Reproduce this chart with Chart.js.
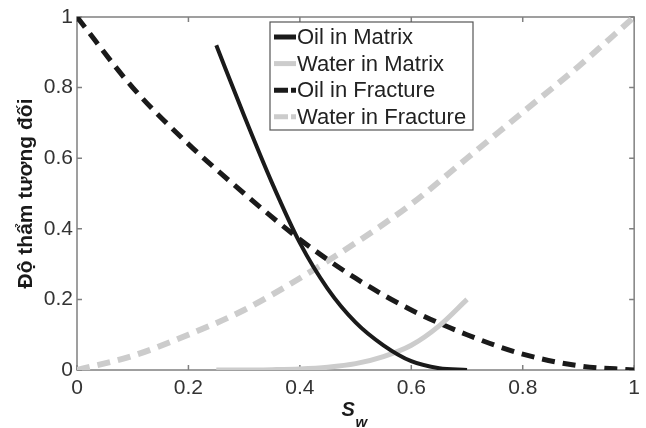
<!DOCTYPE html>
<html>
<head>
<meta charset="utf-8">
<script src="https://cdn.jsdelivr.net/npm/chart.js@4"></script>
<style>
  body { margin: 0; background: #fff; }
  canvas { display: block; }
</style>
</head>
<body>
<canvas id="kr-chart" width="646" height="428"></canvas>
<script>
// Du lieu doc tu hinh
const swMatrix = [0.25, 0.3, 0.35, 0.4, 0.45, 0.5, 0.55, 0.6, 0.65, 0.7];
const oilMatrix = [0.92, 0.72, 0.53, 0.36, 0.23, 0.135, 0.07, 0.025, 0.005, 0];
const waterMatrix = [0, 0, 0.001, 0.003, 0.008, 0.018, 0.038, 0.07, 0.125, 0.2];

const swFracture = [0, 0.1, 0.2, 0.3, 0.4, 0.5, 0.6, 0.7, 0.8, 0.9, 1];
const oilFracture = [1, 0.8, 0.64, 0.5, 0.37, 0.26, 0.17, 0.1, 0.045, 0.012, 0];
const waterFracture = [0, 0.04, 0.1, 0.17, 0.26, 0.36, 0.47, 0.6, 0.73, 0.86, 1];

const xTicks = [0, 0.2, 0.4, 0.6, 0.8, 1];
const yTicks = [0, 0.2, 0.4, 0.6, 0.8, 1];

const FONT = "'Liberation Sans', Arial, sans-serif";

function points(xs, ys) {
    return xs.map((x, i) => ({ x: x, y: ys[i] }));
}

// Khung truc kieu MATLAB, vach chia huong vao trong
const framePlugin = {
    id: 'frame',
    beforeDatasetsDraw(chart) {
        const { ctx, chartArea: a, scales } = chart;
        ctx.save();
        ctx.strokeStyle = '#808080';
        ctx.lineWidth = 1.5;
        ctx.strokeRect(a.left, a.top, a.right - a.left, a.bottom - a.top);
        ctx.beginPath();
        xTicks.forEach(v => {
            const px = scales.x.getPixelForValue(v);
            ctx.moveTo(px, a.bottom); ctx.lineTo(px, a.bottom - 5);
            ctx.moveTo(px, a.top); ctx.lineTo(px, a.top + 5);
        });
        yTicks.forEach(v => {
            const py = scales.y.getPixelForValue(v);
            ctx.moveTo(a.left, py); ctx.lineTo(a.left + 5, py);
            ctx.moveTo(a.right, py); ctx.lineTo(a.right - 5, py);
        });
        ctx.stroke();
        ctx.restore();
    },
    afterDraw(chart) {
        // Nhan truc x: S_w
        const { ctx, chartArea: a } = chart;
        const cx = (a.left + a.right) / 2;
        ctx.save();
        ctx.fillStyle = '#1a1a1a';
        ctx.textBaseline = 'alphabetic';
        ctx.font = 'italic bold 20px ' + FONT;
        ctx.fillText('S', cx - 14, 416);
        ctx.font = 'italic bold 15px ' + FONT;
        ctx.fillText('w', cx + 0, 427);
        ctx.restore();
    }
};

// Chu thich ben trong vung ve
const legendPlugin = {
    id: 'innerLegend',
    afterDraw(chart) {
        const { ctx, chartArea: a } = chart;
        const left = a.left + 193, top = a.top + 5, w = 203, h = 108;
        ctx.save();
        ctx.fillStyle = '#fff';
        ctx.fillRect(left, top, w, h);
        ctx.strokeStyle = '#555';
        ctx.lineWidth = 1.2;
        ctx.strokeRect(left, top, w, h);
        ctx.font = '22px ' + FONT;
        ctx.textBaseline = 'middle';
        chart.data.datasets.forEach((ds, i) => {
            const y = top + 15 + i * 26.6;
            ctx.strokeStyle = ds.borderColor;
            ctx.lineWidth = 5;
            ctx.setLineDash(ds.borderDash && ds.borderDash.length ? [14, 3] : []);
            ctx.beginPath();
            ctx.moveTo(left + 4, y);
            ctx.lineTo(left + 26, y);
            ctx.stroke();
            ctx.setLineDash([]);
            ctx.fillStyle = '#222';
            ctx.fillText(ds.label, left + 27, y + 1);
        });
        ctx.restore();
    }
};

const ctx = document.getElementById('kr-chart').getContext('2d');
new Chart(ctx, {
    type: 'line',
    data: {
        datasets: [{
            label: 'Oil in Matrix',
            data: points(swMatrix, oilMatrix),
            borderColor: '#1a1a1a',
            borderWidth: 4
        }, {
            label: 'Water in Matrix',
            data: points(swMatrix, waterMatrix),
            borderColor: '#cccccc',
            borderWidth: 5
        }, {
            label: 'Oil in Fracture',
            data: points(swFracture, oilFracture),
            borderColor: '#1a1a1a',
            borderWidth: 5,
            borderDash: [13, 8]
        }, {
            label: 'Water in Fracture',
            data: points(swFracture, waterFracture),
            borderColor: '#cccccc',
            borderWidth: 6,
            borderDash: [13, 8]
        }]
    },
    options: {
        responsive: false,
        animation: false,
        layout: { padding: { left: 0, top: 17, right: 10, bottom: 0 } },
        elements: {
            point: { radius: 0 },
            line: { cubicInterpolationMode: 'monotone', fill: false }
        },
        plugins: {
            legend: { display: false },
            tooltip: { enabled: false }
        },
        scales: {
            x: {
                type: 'linear',
                min: 0,
                max: 1,
                afterFit: s => { s.height = 58; },
                afterBuildTicks: s => { s.ticks = xTicks.map(v => ({ value: v })); },
                grid: { display: false, drawTicks: false },
                border: { display: false },
                ticks: {
                    font: { family: FONT, size: 21 },
                    color: '#333',
                    padding: 6,
                    callback: v => String(v)
                }
            },
            y: {
                min: 0,
                max: 1,
                afterFit: s => { s.width = 77; },
                afterBuildTicks: s => { s.ticks = yTicks.map(v => ({ value: v })); },
                grid: { display: false, drawTicks: false },
                border: { display: false },
                ticks: {
                    font: { family: FONT, size: 21 },
                    color: '#333',
                    padding: 4,
                    callback: v => String(v)
                },
                title: {
                    display: true,
                    text: 'Độ thẩm tương đối',
                    font: { family: FONT, size: 21, weight: 'bold' },
                    color: '#1a1a1a',
                    padding: { top: 14, bottom: 0 }
                }
            }
        }
    },
    plugins: [framePlugin, legendPlugin]
});
</script>
</body>
</html>
